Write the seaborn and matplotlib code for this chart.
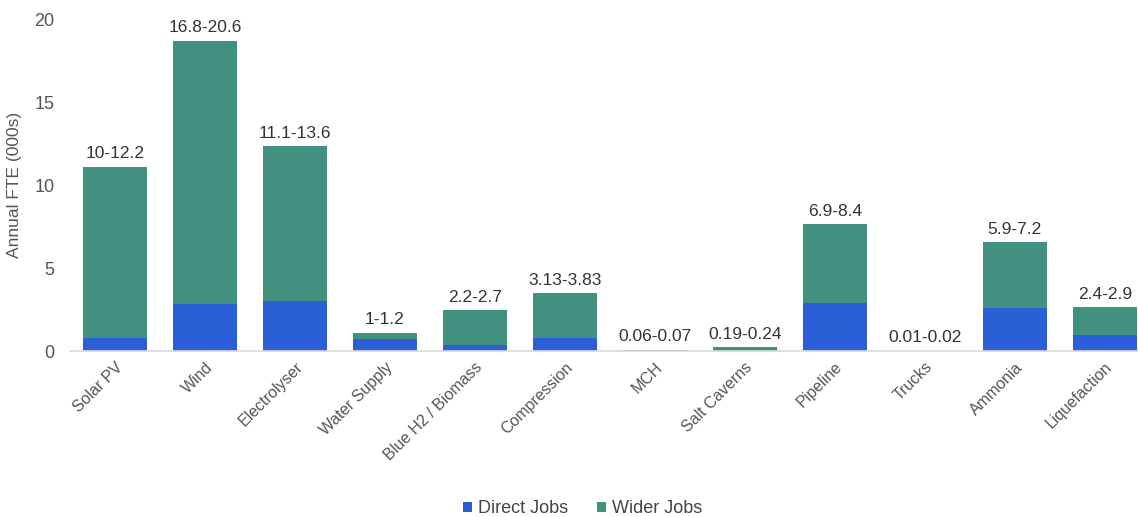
import matplotlib
matplotlib.use("Agg")
import matplotlib.pyplot as plt
import seaborn as sns
import pandas as pd

categories = ["Solar PV", "Wind", "Electrolyser", "Water Supply", "Blue H2 / Biomass",
              "Compression", "MCH", "Salt Caverns", "Pipeline", "Trucks", "Ammonia",
              "Liquefaction"]
range_low = [10, 16.8, 11.1, 1, 2.2, 3.13, 0.06, 0.19, 6.9, 0.01, 5.9, 2.4]
range_high = [12.2, 20.6, 13.6, 1.2, 2.7, 3.83, 0.07, 0.24, 8.4, 0.02, 7.2, 2.9]
range_labels = ["10-12.2", "16.8-20.6", "11.1-13.6", "1-1.2", "2.2-2.7", "3.13-3.83",
                "0.06-0.07", "0.19-0.24", "6.9-8.4", "0.01-0.02", "5.9-7.2", "2.4-2.9"]
direct_jobs = [0.8, 2.86, 3.02, 0.7, 0.36, 0.8, 0.02, 0.02, 2.92, 0.005, 2.58, 0.95]

BLUE = "#2B5FD8"
TEAL = "#419080"

sns.set_theme(style="white")
plt.rcParams["font.family"] = ["Liberation Sans", "DejaVu Sans"]

df = pd.DataFrame({
    "category": categories,
    "total": [(lo + hi) / 2 for lo, hi in zip(range_low, range_high)],
    "direct": direct_jobs,
})
df["wider"] = df["total"] - df["direct"]

fig = plt.figure(figsize=(11.38, 5.17), dpi=100)
ax = fig.add_axes([0.0615, 0.321, 0.9385, 0.642])

# stacked bars: full total in teal, direct share drawn over it in blue
sns.barplot(data=df, x="category", y="total", color=TEAL, width=0.71,
            saturation=1, ax=ax, label="Wider Jobs", linewidth=0, edgecolor="none")
sns.barplot(data=df, x="category", y="direct", color=BLUE, width=0.71,
            saturation=1, ax=ax, label="Direct Jobs", linewidth=0, edgecolor="none")

for i, (tot, lab) in enumerate(zip(df["total"], range_labels)):
    ax.annotate(lab, (i, tot), xytext=(0, 4), textcoords="offset points",
                ha="center", va="bottom", fontsize=12.5, color="#333333")

ax.set_xlim(-0.5, 11.37)
ax.set_ylim(0, 20)
ax.set_yticks([0, 5, 10, 15, 20])
ax.set_xlabel("")
ax.set_ylabel("Annual FTE (000s)", fontsize=12.5, color="#555555")
ax.yaxis.set_label_coords(-0.045, 0.5)
ax.tick_params(axis="y", labelsize=13, colors="#555555", length=0, pad=11)
ax.tick_params(axis="x", labelsize=11.5, colors="#555555", length=0, pad=6)
for lbl in ax.get_xticklabels():
    lbl.set_rotation(45)
    lbl.set_ha("right")
    lbl.set_rotation_mode("anchor")

for side in ["top", "right", "left"]:
    ax.spines[side].set_visible(False)
ax.spines["bottom"].set_color("#d9d9d9")
ax.spines["bottom"].set_linewidth(1.2)

handles, labels = ax.get_legend_handles_labels()
order = [labels.index("Direct Jobs"), labels.index("Wider Jobs")]
fig.legend([handles[k] for k in order], [labels[k] for k in order],
           loc="center", bbox_to_anchor=(0.512, 0.016), ncol=2, frameon=False,
           fontsize=13, handlelength=0.5, handleheight=0.5, handletextpad=0.35,
           columnspacing=1.6, labelcolor="#444444")
if ax.legend_:
    ax.legend_.remove()

fig.savefig("out.png", dpi=100)
